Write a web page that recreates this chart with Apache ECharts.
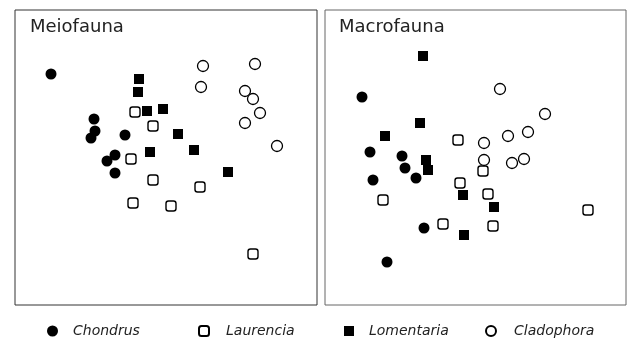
<!DOCTYPE html>
<html><head><meta charset="utf-8">
<script src="https://cdn.jsdelivr.net/npm/echarts@6/dist/echarts.min.js"></script>
<style>html,body{margin:0;padding:0;background:#fff}#c{width:627px;height:339px}</style>
</head><body><div id="c"></div>
<script>
const panels = ['Meiofauna', 'Macrofauna'];
const speciesNames = ['Chondrus', 'Laurencia', 'Lomentaria', 'Cladophora'];
// ordination coordinates (arbitrary units, panel-relative)
const meioChondrus   = [[36,231],[79,186],[80,174],[76,167],[110,170],[100,150],[92,144],[100,132]];
const meioLaurencia  = [[120,193],[138,179],[116,146],[138,125],[185,118],[118,102],[156,99],[238,51]];
const meioLomentaria = [[124,226],[123,213],[132,194],[148,196],[163,171],[135,153],[179,155],[213,133]];
const meioCladophora = [[188,239],[240,241],[186,218],[230,214],[238,206],[245,192],[230,182],[262,159]];
const macroChondrus   = [[37,208],[45,153],[77,149],[80,137],[48,125],[91,127],[99,77],[62,43]];
const macroLaurencia  = [[133,165],[158,134],[135,122],[163,111],[58,105],[118,81],[168,79],[263,95]];
const macroLomentaria = [[98,249],[95,182],[60,169],[101,145],[103,135],[138,110],[169,98],[139,70]];
const macroCladophora = [[175,216],[220,191],[203,173],[183,169],[159,162],[159,145],[187,142],[199,146]];

const styles = {
  Chondrus:   {symbol:'circle', size:11, itemStyle:{color:'#000', borderWidth:0, opacity:1}},
  Laurencia:  {symbol:'roundRect', size:10, itemStyle:{color:'#fff', borderColor:'#000', borderWidth:1.4, opacity:1}},
  Lomentaria: {symbol:'rect', size:10, itemStyle:{color:'#000', borderWidth:0, opacity:1}},
  Cladophora: {symbol:'circle', size:11, itemStyle:{color:'#fff', borderColor:'#000', borderWidth:1.3, opacity:1}}
};
const panelData = [
  [meioChondrus, meioLaurencia, meioLomentaria, meioCladophora],
  [macroChondrus, macroLaurencia, macroLomentaria, macroCladophora]
];

const series = [];
panelData.forEach((arr, p) => {
  arr.forEach((d, i) => {
    const nm = speciesNames[i], st = styles[nm];
    series.push({
      type: 'scatter', name: nm, xAxisIndex: p, yAxisIndex: p, data: d,
      symbol: st.symbol, symbolSize: st.size, itemStyle: st.itemStyle,
      silent: true, z: i === 1 || i === 3 ? 3 : 2
    });
  });
});

const legendLefts = [47, 198, 344, 485];
const legendPads = [10, 12, 10, 13];
const legends = speciesNames.map((nm, i) => ({
  data: [{name: nm, icon: styles[nm].symbol}],
  left: legendLefts[i], top: 324, padding: 0,
  itemWidth: nm === 'Chondrus' ? 11 : 10, itemHeight: nm === 'Chondrus' ? 11 : 10,
  selectedMode: false,
  textStyle: {fontFamily:'DejaVu Sans', fontStyle:'italic', fontSize:14, color:'#222', padding:[0,0,0,legendPads[i]]}
}));

const chart = echarts.init(document.getElementById('c'), null, {renderer:'canvas'});
chart.setOption({
  animation: false,
  backgroundColor: '#fff',
  title: [
    {text: panels[0], left: 30, top: 18, textStyle:{fontFamily:'DejaVu Sans', fontSize:18, fontWeight:'normal', color:'#222'}, padding:0},
    {text: panels[1], left: 339, top: 18, textStyle:{fontFamily:'DejaVu Sans', fontSize:18, fontWeight:'normal', color:'#222'}, padding:0}
  ],
  legend: legends,
  grid: [
    {left: 15, top: 10, width: 302, height: 295, show: true, borderColor: '#333', borderWidth: 1},
    {left: 325, top: 10, width: 301, height: 295, show: true, borderColor: '#666', borderWidth: 1}
  ],
  xAxis: [
    {gridIndex:0, type:'value', min:0, max:302, show:false},
    {gridIndex:1, type:'value', min:0, max:301, show:false}
  ],
  yAxis: [
    {gridIndex:0, type:'value', min:0, max:295, show:false},
    {gridIndex:1, type:'value', min:0, max:295, show:false}
  ],
  series: series
});
</script></body></html>
